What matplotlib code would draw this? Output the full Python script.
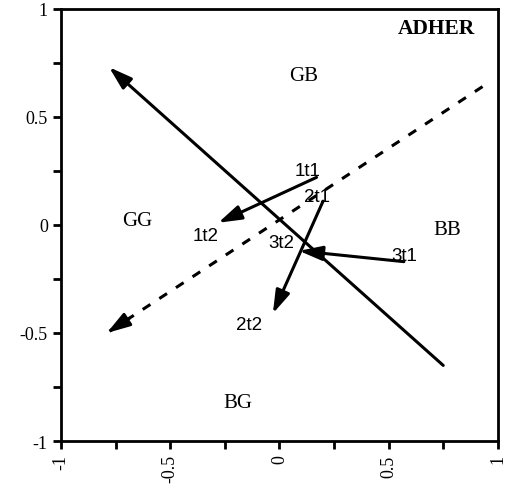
import matplotlib
matplotlib.use("Agg")
import matplotlib.pyplot as plt
import numpy as np

# --- Data ---
# main axes through the plot: (start, arrow tip)
solid_axis = [(0.75, -0.65), (-0.78, 0.73)]
dashed_axis = [(0.93, 0.64), (-0.79, -0.50)]

# trajectories t1 -> t2
traj_start = [(0.17, 0.22), (0.20, 0.11), (0.57, -0.17)]
traj_end = [(-0.28, 0.01), (-0.03, -0.41), (0.09, -0.12)]
start_labels = ["1t1", "2t1", "3t1"]
end_labels = ["1t2", "2t2", "3t2"]
start_label_pos = [(0.13, 0.25), (0.17, 0.13), (0.57, -0.14)]
end_label_pos = [(-0.34, -0.05), (-0.14, -0.46), (0.01, -0.08)]

# quadrant labels
regions = ["GB", "GG", "BB", "BG"]
region_pos = [(0.11, 0.69), (-0.65, 0.02), (0.77, -0.02), (-0.19, -0.82)]

ticks = [-1, -0.5, 0, 0.5, 1]
tick_labels = ["-1", "-0.5", "0", "0.5", "1"]
minor_ticks = [-0.75, -0.25, 0.25, 0.75]

serif = "Liberation Serif"
sans = "Liberation Sans"

fig = plt.figure(figsize=(5.08, 4.89), dpi=100)
ax = fig.add_axes([0.120, 0.096, 0.860, 0.884])
ax.set_xlim(-1, 1)
ax.set_ylim(-1, 1)

arrow_kw = dict(arrowstyle="-|>,head_length=0.7,head_width=0.22", color="black",
                lw=2.2, mutation_scale=20, shrinkA=0, shrinkB=0)

# solid axis
ax.annotate("", xy=solid_axis[1], xytext=solid_axis[0],
            arrowprops=arrow_kw)

# dashed axis: line plus arrow head
ax.plot([dashed_axis[0][0], dashed_axis[1][0]],
        [dashed_axis[0][1], dashed_axis[1][1]],
        color="black", lw=2.2, ls=(0, (3, 3.5)))
d = np.array(dashed_axis[1]) - np.array(dashed_axis[0])
ax.annotate("", xy=dashed_axis[1], xytext=tuple(np.array(dashed_axis[1]) - 0.06 * d),
            arrowprops=arrow_kw)

# trajectories
for s, e in zip(traj_start, traj_end):
    ax.annotate("", xy=e, xytext=s, arrowprops=arrow_kw)

for lab, p in zip(start_labels, start_label_pos):
    ax.text(p[0], p[1], lab, family=sans, fontsize=13.5, ha="center", va="center")
for lab, p in zip(end_labels, end_label_pos):
    ax.text(p[0], p[1], lab, family=sans, fontsize=13.5, ha="center", va="center")

for lab, p in zip(regions, region_pos):
    ax.text(p[0], p[1], lab, family=serif, fontsize=15, ha="center", va="center")

ax.text(0.72, 0.91, "ADHER", family=serif, fontsize=15.5, fontweight="bold",
        ha="center", va="center")

# axes styling
ax.set_xticks(ticks)
ax.set_xticklabels(tick_labels, rotation=90, family=serif, fontsize=13)
ax.set_yticks(ticks)
ax.set_yticklabels(tick_labels, family=serif, fontsize=13)
ax.set_xticks(minor_ticks, minor=True)
ax.set_yticks(minor_ticks, minor=True)
ax.tick_params(which="both", direction="out", length=6, width=2)
for sp in ax.spines.values():
    sp.set_linewidth(2)

fig.savefig("out.png", dpi=100)
